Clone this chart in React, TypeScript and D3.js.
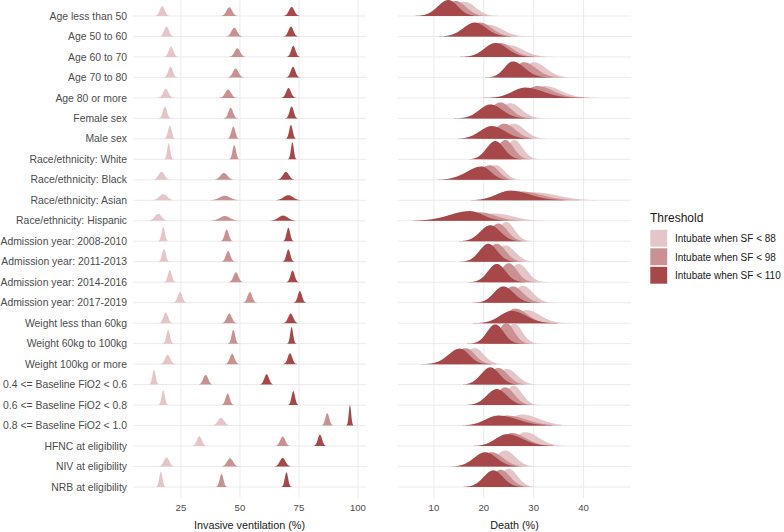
import React from "react";
import * as d3 from "d3";

// ---------- data ----------
const rows = [
  "Age less than 50", "Age 50 to 60", "Age 60 to 70", "Age 70 to 80", "Age 80 or more",
  "Female sex", "Male sex", "Race/ethnicity: White", "Race/ethnicity: Black",
  "Race/ethnicity: Asian", "Race/ethnicity: Hispanic",
  "Admission year: 2008-2010", "Admission year: 2011-2013", "Admission year: 2014-2016",
  "Admission year: 2017-2019", "Weight less than 60kg", "Weight 60kg to 100kg",
  "Weight 100kg or more", "0.4 <= Baseline FiO2 < 0.6", "0.6 <= Baseline FiO2 < 0.8",
  "0.8 <= Baseline FiO2 < 1.0", "HFNC at eligibility", "NIV at eligibility", "NRB at eligibility",
];

const thresholds = ["Intubate when SF < 88", "Intubate when SF < 98", "Intubate when SF < 110"];

// Invasive ventilation (%): centre and spread of each ridge
const ventMean88 = [17.1, 18.9, 20.8, 20.6, 18.6, 18.2, 20.3, 19.8, 16.8, 17.5, 15.4, 17.5, 17.8, 20.3, 24.6, 18.6, 19.6, 19.4, 13.6, 17.5, 42.0, 32.8, 18.9, 16.5];
const ventMean98 = [45.5, 47.6, 48.9, 48.2, 45.0, 46.1, 47.2, 47.6, 43.2, 43.6, 43.6, 44.4, 45.0, 48.3, 54.2, 45.5, 47.2, 46.7, 35.5, 44.8, 87.0, 68.1, 45.8, 42.2];
const ventMean110 = [71.9, 71.6, 72.6, 72.5, 70.6, 71.9, 71.6, 72.2, 69.5, 70.5, 68.3, 70.5, 70.5, 72.3, 75.4, 71.5, 71.9, 71.2, 61.3, 72.6, 96.6, 83.9, 68.1, 69.7];
const ventSd88 = [1.04, 1.04, 1.0, 0.97, 1.11, 0.86, 0.78, 0.65, 1.3, 1.7, 1.5, 0.72, 0.8, 0.84, 0.97, 0.97, 0.74, 1.1, 0.7, 0.7, 1.35, 1.05, 1.13, 0.67];
const ventSd98 = [1.19, 1.19, 1.19, 1.15, 1.24, 0.97, 0.84, 0.72, 1.5, 2.3, 2.2, 0.88, 0.97, 1.04, 0.97, 1.07, 0.74, 1.0, 1.05, 0.9, 0.83, 1.08, 1.26, 0.79];
const ventSd110 = [1.15, 1.04, 0.92, 0.97, 1.04, 0.86, 0.74, 0.6, 1.3, 2.0, 2.0, 0.76, 0.84, 0.88, 0.88, 1.07, 0.62, 0.95, 1.0, 0.73, 0.5, 0.9, 1.2, 0.7];

// Death (%): centre, spread and right/left skew of each ridge
const deathMean88 = [16.2, 20.9, 25.0, 30.0, 32.3, 25.3, 26.0, 26.1, 22.5, 30.0, 22.3, 24.5, 24.3, 27.0, 27.8, 28.6, 26.1, 18.2, 24.6, 26.0, 27.6, 28.3, 24.3, 25.0];
const deathMean98 = [14.4, 19.3, 23.3, 28.0, 30.7, 23.3, 24.1, 24.3, 21.3, 27.3, 19.3, 22.9, 22.6, 25.0, 25.8, 26.3, 24.5, 16.4, 22.9, 24.3, 24.6, 25.6, 21.6, 23.4];
const deathMean110 = [12.9, 18.2, 22.3, 25.8, 28.3, 21.3, 21.6, 22.3, 19.6, 25.3, 17.2, 21.3, 20.9, 22.6, 23.9, 25.6, 22.3, 15.2, 21.3, 22.6, 22.9, 24.6, 20.3, 21.9];
const deathSd88 = [2.24, 2.7, 2.7, 2.1, 2.7, 2.1, 2.1, 1.66, 2.2, 4.0, 4.4, 1.66, 1.96, 1.75, 1.88, 2.46, 1.6, 2.0, 2.04, 1.66, 2.9, 2.3, 2.0, 1.75];
const deathSd98 = [2.13, 2.3, 2.3, 2.1, 2.7, 2.0, 2.1, 1.66, 2.2, 3.6, 3.8, 1.8, 1.78, 1.68, 1.96, 2.2, 1.55, 2.0, 1.92, 1.8, 3.2, 2.46, 2.24, 1.85];
const deathSd110 = [2.0, 2.3, 2.3, 2.0, 3.1, 2.3, 2.5, 1.75, 2.4, 3.3, 3.3, 2.0, 1.78, 1.75, 1.96, 2.6, 1.66, 2.06, 1.85, 2.0, 3.2, 2.7, 2.24, 1.92];
const deathSkew = [0.9, 1.0, 1.1, 1.4, 1.4, 1.1, 1.1, 1.0, 0.6, 1.4, 0.65, 1.0, 1.0, 1.0, 1.1, 1.2, 1.0, 0.8, 1.0, 1.0, 1.5, 1.4, 1.0, 1.0];

const ventTicks = [25, 50, 75, 100];
const deathTicks = [10, 20, 30, 40];

const colors = ["#e5c6c8", "#c99192", "#a64749"];

// ---------- helpers ----------
function twoPieceDensity(x: number, m: number, s: number, r: number) {
  const sL = (s * 2) / (1 + r);
  const sR = (s * 2 * r) / (1 + r);
  const sd = x < m ? sL : sR;
  const z = (x - m) / sd;
  return Math.exp(-0.5 * z * z) / (Math.sqrt(2 * Math.PI) * s);
}

type Ridge = { row: number; t: number; m: number; s: number; r: number };

function Panel({ ridges, x, y, ticks, title, pxPerDensity }: any) {
  const [d0, d1] = x.domain();
  const step = (d1 - d0) / 500;
  const grid = d3.range(d0, d1 + step, step);
  const [r0, r1] = x.range();
  return (
    <g>
      {ticks.map((t: number) => (
        <line key={"v" + t} x1={x(t)} x2={x(t)} y1={0} y2={498} stroke="#ebebeb" strokeWidth={1} />
      ))}
      {rows.map((r) => (
        <line key={"h" + r} x1={r0} x2={r1} y1={y(r)} y2={y(r)} stroke="#ebebeb" strokeWidth={1} />
      ))}
      {rows.map((rowName, ri) =>
        ridges
          .filter((d: Ridge) => d.row === ri)
          .map((d: Ridge) => {
            const pts = grid
              .map((v) => ({ v, h: twoPieceDensity(v, d.m, d.s, d.r) }))
              .filter((p) => p.h * pxPerDensity > 0.05);
            const area = d3
              .area<{ v: number; h: number }>()
              .x((p) => x(p.v))
              .y0(y(rowName))
              .y1((p) => y(rowName) - p.h * pxPerDensity)
              .curve(d3.curveLinear);
            return <path key={ri + "-" + d.t} d={area(pts) || ""} fill={colors[d.t]} />;
          })
      )}
      {ticks.map((t: number) => (
        <text key={"t" + t} x={x(t)} y={510.5} textAnchor="middle" fontSize={9.6} fill="#4d4d4d">
          {t}
        </text>
      ))}
      <text x={(r0 + r1) / 2} y={529} textAnchor="middle" fontSize={10.8} fill="#1a1a1a">
        {title}
      </text>
    </g>
  );
}

export default function App() {
  const W = 784;
  const H = 532;
  const y = d3.scalePoint<string>().domain(rows).range([16, 487]);
  const xVent = d3.scaleLinear().domain([4.7, 103.4]).range([133, 366]);
  const xDeath = d3.scaleLinear().domain([2.8, 49.5]).range([398, 631]);

  const ventMeans = [ventMean88, ventMean98, ventMean110];
  const ventSds = [ventSd88, ventSd98, ventSd110];
  const deathMeans = [deathMean88, deathMean98, deathMean110];
  const deathSds = [deathSd88, deathSd98, deathSd110];

  const ventRidges: Ridge[] = [];
  const deathRidges: Ridge[] = [];
  rows.forEach((_, i) => {
    for (let t = 0; t < 3; t++) {
      ventRidges.push({ row: i, t, m: ventMeans[t][i], s: ventSds[t][i], r: 1 });
      deathRidges.push({ row: i, t, m: deathMeans[t][i], s: deathSds[t][i], r: deathSkew[i] });
    }
  });

  // pixel height per density unit (tallest ridge in each panel)
  const ventPx = 10.35 / 0.3989;
  const deathPx = 32 / 0.3989;

  return (
    <svg
      width={W}
      height={H}
      style={{ position: "absolute", left: 0, top: 0, background: "#fff" }}
      fontFamily="'Liberation Sans', Arial, sans-serif"
    >
      <rect width={W} height={H} fill="#fff" />
      <Panel ridges={ventRidges} x={xVent} y={y} ticks={ventTicks} title="Invasive ventilation (%)" pxPerDensity={ventPx} />
      <Panel ridges={deathRidges} x={xDeath} y={y} ticks={deathTicks} title="Death (%)" pxPerDensity={deathPx} />
      {rows.map((r) => (
        <text key={"l" + r} x={127} y={y(r)! + 3.6} textAnchor="end" fontSize={10.4} fill="#4d4d4d">
          {r}
        </text>
      ))}
      <g transform="translate(650,0)">
        <text x={0} y={221.5} fontSize={12} fill="#1a1a1a">
          Threshold
        </text>
        {thresholds.map((t, i) => (
          <g key={t} transform={`translate(0,${229.5 + i * 18.5})`}>
            <rect x={0} y={0} width={17.5} height={17.5} fill={colors[i]} stroke="#fff" strokeWidth={0.6} />
            <text x={25} y={12.5} fontSize={10} fill="#1a1a1a">
              {t}
            </text>
          </g>
        ))}
      </g>
    </svg>
  );
}
